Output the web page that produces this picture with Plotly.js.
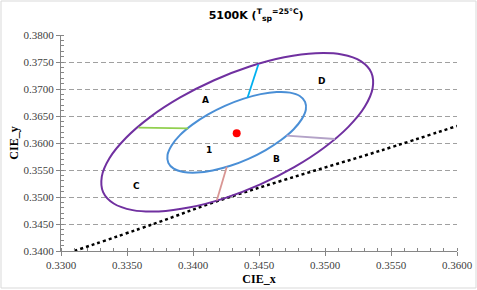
<!DOCTYPE html>
<html>
<head>
<meta charset="utf-8">
<script src="https://cdn.plot.ly/plotly-3.0.1.min.js"></script>
<style>html,body{margin:0;padding:0;background:#fff;}#chart{width:477px;height:290px;}</style>
</head>
<body>
<div id="chart"></div>
<script>
// Outer ellipse (purple) points
var outerX = [0.35351, 0.35361, 0.35302, 0.35177, 0.34995, 0.34767, 0.34510, 0.34242, 0.33979, 0.33741, 0.33543, 0.33399, 0.33319, 0.33309, 0.33368, 0.33493, 0.33675, 0.33903, 0.34160, 0.34429, 0.34691, 0.34929, 0.35127, 0.35271, 0.35351];
var outerY = [0.37305, 0.37018, 0.36675, 0.36299, 0.35917, 0.35553, 0.35234, 0.34980, 0.34809, 0.34733, 0.34757, 0.34879, 0.35091, 0.35378, 0.35722, 0.36097, 0.36480, 0.36843, 0.37162, 0.37416, 0.37587, 0.37663, 0.37639, 0.37517, 0.37305];
// Inner ellipse (blue)
var innerX = [0.34849, 0.34855, 0.34824, 0.34761, 0.34667, 0.34551, 0.34420, 0.34283, 0.34149, 0.34028, 0.33927, 0.33854, 0.33813, 0.33807, 0.33838, 0.33901, 0.33995, 0.34111, 0.34242, 0.34379, 0.34513, 0.34634, 0.34735, 0.34809, 0.34849];
var innerY = [0.36763, 0.36617, 0.36442, 0.36251, 0.36056, 0.35870, 0.35707, 0.35578, 0.35491, 0.35452, 0.35464, 0.35525, 0.35633, 0.35779, 0.35954, 0.36145, 0.36340, 0.36526, 0.36689, 0.36818, 0.36905, 0.36944, 0.36933, 0.36871, 0.36763];
// Centre point
var centerX = [0.34331];
var centerY = [0.36180];
// Connector segments
var cyanX = [0.34413, 0.34495], cyanY = [0.36837, 0.37454];
var greenX = [0.33587, 0.33963], greenY = [0.36284, 0.36269];
var lilacX = [0.34709, 0.35075], lilacY = [0.36135, 0.36074];
var pinkX = [0.34256, 0.34180], pinkY = [0.35561, 0.34935];
// Black dotted locus
var locusX = [0.3310, 0.3370, 0.3418, 0.3473, 0.3542, 0.3600];
var locusY = [0.3400, 0.3450, 0.3492, 0.35346, 0.35858, 0.36315];
// Region labels
var labelText = ['A', '1', 'B', 'C', 'D'];
var labelX = [0.34091, 0.34124, 0.34634, 0.33570, 0.34974];
var labelY = [0.36797, 0.35871, 0.35699, 0.35210, 0.37154];

function seg(x, y, c, w) {
  return {x: x, y: y, type: 'scatter', mode: 'lines', line: {color: c, width: w}, hoverinfo: 'skip', showlegend: false};
}

var traces = [
  {x: locusX, y: locusY, type: 'scatter', mode: 'lines', line: {color: '#000', width: 2.5, dash: 'dot', shape: 'spline'}, showlegend: false},
  {x: outerX, y: outerY, type: 'scatter', mode: 'lines', line: {color: '#7030A0', width: 2, shape: 'spline', smoothing: 1}, showlegend: false},
  {x: innerX, y: innerY, type: 'scatter', mode: 'lines', line: {color: '#4A8FD6', width: 2, shape: 'spline', smoothing: 1}, showlegend: false},
  seg(cyanX, cyanY, '#00B0F0', 1.8),
  seg(greenX, greenY, '#92D050', 1.8),
  seg(lilacX, lilacY, '#B3A2C7', 1.8),
  seg(pinkX, pinkY, '#D99694', 1.8),
  {x: centerX, y: centerY, type: 'scatter', mode: 'markers', marker: {color: '#FF0000', size: 8}, showlegend: false}
];

var annotations = labelText.map(function (t, i) {
  return {x: labelX[i], y: labelY[i], xref: 'x', yref: 'y', text: '<b>' + t + '</b>', showarrow: false,
          font: {family: 'DejaVu Sans', size: 9, color: '#000'}, xanchor: 'center', yanchor: 'middle'};
});

var axisCommon = {
  showline: true, linecolor: '#868686', linewidth: 1,
  ticks: 'outside', ticklen: 4, tickcolor: '#868686',
  tickfont: {family: 'Liberation Serif', size: 11, color: '#404040'},
  tickformat: '.4f', dtick: 0.005, zeroline: false,
  minor: {dtick: 0.001, ticks: 'inside', ticklen: 3, tickcolor: '#868686', showgrid: false}
};

var layout = {
  width: 477, height: 290,
  margin: {l: 61, r: 20, t: 35, b: 39},
  paper_bgcolor: '#fff', plot_bgcolor: '#fff',
  showlegend: false,
  title: {
    text: '<b>5100K (<sup>T</sup><sub>sp</sub><sup>=25°C</sup>)</b>',
    font: {family: 'DejaVu Sans', size: 11, color: '#000'},
    x: 0.537, xanchor: 'center', y: 0.948, yanchor: 'middle'
  },
  xaxis: Object.assign({}, axisCommon, {
    range: [0.33, 0.36], showgrid: false,
    title: {text: '<b>CIE_x</b>', font: {family: 'Liberation Serif', size: 12, color: '#000'}, standoff: 4}
  }),
  yaxis: Object.assign({}, axisCommon, {
    range: [0.34, 0.38], showgrid: true, gridcolor: '#A0A0A0', gridwidth: 1, griddash: '5px,3px',
    title: {text: '<b>CIE_y</b>', font: {family: 'Liberation Serif', size: 12, color: '#000'}, standoff: 2}
  }),
  annotations: annotations,
  shapes: [{
    type: 'rect', xref: 'paper', yref: 'paper',
    x0: -0.1515, x1: 1.048, y0: -0.1713, y1: 1.1574,
    line: {color: '#D9D9D9', width: 1}
  }]
};

Plotly.newPlot('chart', traces, layout, {displayModeBar: false, staticPlot: true});
</script>
</body>
</html>
